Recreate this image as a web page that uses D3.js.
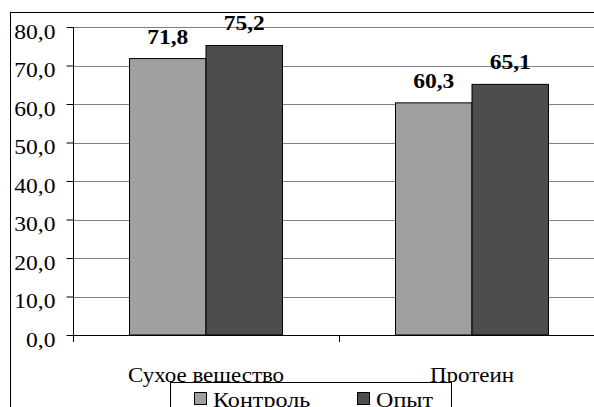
<!DOCTYPE html>
<html>
<head>
<meta charset="utf-8">
<script src="https://cdn.jsdelivr.net/npm/d3@7"></script>
<style>
  html, body { margin: 0; padding: 0; background: #fff; overflow: hidden; }
  svg, svg text { font-family: 'Liberation Serif', Tinos, 'Times New Roman', 'DejaVu Serif', serif; }
</style>
</head>
<body>
<svg id="chart" width="594" height="407"></svg>
<script>
// Chart data
const categories = ["Сухое вещество", "Протеин"];
const seriesNames = ["Контроль", "Опыт"];
const controlValues = [71.8, 60.3];
const trialValues = [75.2, 65.1];
const yTicks = [0, 10, 20, 30, 40, 50, 60, 70, 80];

const seriesColors = ["#a0a0a0", "#4d4d4d"];
const fmt = v => v.toFixed(1).replace(".", ",");
const serif = "'Liberation Serif', Tinos, 'Times New Roman', 'DejaVu Serif', serif";
const FS = 21;        // base font size
const SX = 1.12;      // slightly wide type

const svg = d3.select("#chart").attr("font-family", serif);

// Places a horizontally widened text at (x, y)
function wideText(sel, x, y) {
  return sel.attr("x", 0).attr("y", 0)
    .attr("transform", (d, i) => `translate(${x(d, i)},${y(d, i)}) scale(${SX},1)`);
}

// Plot area (extends a little past the right edge of the page)
const plot = { left: 73, right: 605, top: 27, bottom: 335 };

const x0 = d3.scaleBand().domain(categories).range([plot.left, plot.right]).paddingInner(0).paddingOuter(0);
const x1 = d3.scaleBand().domain(seriesNames).range([0, x0.bandwidth()]).paddingInner(0).paddingOuter(0.739);
const y = d3.scaleLinear().domain([0, 80]).range([plot.bottom, plot.top]);

// Outer chart frame
svg.append("rect")
  .attr("x", 10.5).attr("y", 12.5)
  .attr("width", 700).attr("height", 500)
  .attr("fill", "none").attr("stroke", "#000").attr("stroke-width", 1);

// Horizontal gridlines
svg.append("g").selectAll("line")
  .data(yTicks.filter(t => t > 0))
  .join("line")
  .attr("x1", plot.left).attr("x2", plot.right)
  .attr("y1", d => Math.round(y(d)) + 0.5).attr("y2", d => Math.round(y(d)) + 0.5)
  .attr("stroke", "#808080").attr("stroke-width", 1);

// Bars
const rows = categories.map((c, i) => ({ cat: c, values: [controlValues[i], trialValues[i]] }));
const groups = svg.append("g").selectAll("g")
  .data(rows)
  .join("g")
  .attr("transform", d => `translate(${x0(d.cat)},0)`);

groups.selectAll("rect")
  .data(d => d.values.map((v, j) => ({ name: seriesNames[j], value: v, j })))
  .join("rect")
  .attr("x", d => x1(d.name))
  .attr("y", d => y(d.value))
  .attr("width", x1.bandwidth())
  .attr("height", d => y(0) - y(d.value))
  .attr("fill", d => seriesColors[d.j])
  .attr("stroke", "#000").attr("stroke-width", 1);

// Value labels
groups.selectAll("text")
  .data(d => d.values.map((v, j) => ({ name: seriesNames[j], value: v })))
  .join("text")
  .call(wideText, d => x1(d.name) + x1.bandwidth() / 2, d => y(d.value) - 15)
  .attr("text-anchor", "middle")
  .attr("font-family", serif)
  .attr("font-weight", "bold")
  .attr("font-size", FS)
  .attr("fill", "#000")
  .text(d => fmt(d.value));

// Y axis
const yAxis = d3.axisLeft(y).tickValues(yTicks).tickFormat(fmt).tickSize(7).tickPadding(11);
const gy = svg.append("g").attr("transform", `translate(${plot.left + 0.5},0)`).call(yAxis)
  .attr("font-family", serif).attr("font-size", FS);
gy.select(".domain").attr("d", `M0,${plot.top}V${plot.bottom}`).attr("stroke", "#000");
gy.selectAll(".tick line").attr("stroke", "#000");
gy.selectAll(".tick text")
  .attr("dy", null)
  .call(wideText, () => -18, () => 11)
  .attr("fill", "#000");

// X axis baseline and category ticks
svg.append("line")
  .attr("x1", plot.left).attr("x2", plot.right)
  .attr("y1", Math.round(y(0)) + 0.5).attr("y2", Math.round(y(0)) + 0.5)
  .attr("stroke", "#000");
const edges = categories.map(c => x0(c)).concat([plot.right]);
svg.append("g").selectAll("line")
  .data(edges)
  .join("line")
  .attr("x1", d => Math.round(d) + 0.5).attr("x2", d => Math.round(d) + 0.5)
  .attr("y1", y(0)).attr("y2", y(0) + 7)
  .attr("stroke", "#000");

svg.append("g").selectAll("text")
  .data(categories)
  .join("text")
  .call(wideText, d => x0(d) + x0.bandwidth() / 2, () => 382)
  .attr("text-anchor", "middle")
  .attr("font-family", serif)
  .attr("font-size", FS - 0.5)
  .attr("fill", "#000")
  .text(d => d);

// Legend
const legend = svg.append("g");
legend.append("rect")
  .attr("x", 170.5).attr("y", 382.5).attr("width", 281).attr("height", 50)
  .attr("fill", "#fff").attr("stroke", "#000");
const legendX = [194, 357];
const items = legend.selectAll("g")
  .data(seriesNames)
  .join("g")
  .attr("transform", (d, i) => `translate(${legendX[i]},392)`);
items.append("rect")
  .attr("x", 0.5).attr("y", 0.5).attr("width", 12).attr("height", 12)
  .attr("fill", (d, i) => seriesColors[i]).attr("stroke", "#000");
items.append("text")
  .call(wideText, () => 19, () => 14.5)
  .attr("font-family", serif)
  .attr("font-size", FS + 0.5).attr("fill", "#000")
  .text(d => d);
</script>
</body>
</html>
